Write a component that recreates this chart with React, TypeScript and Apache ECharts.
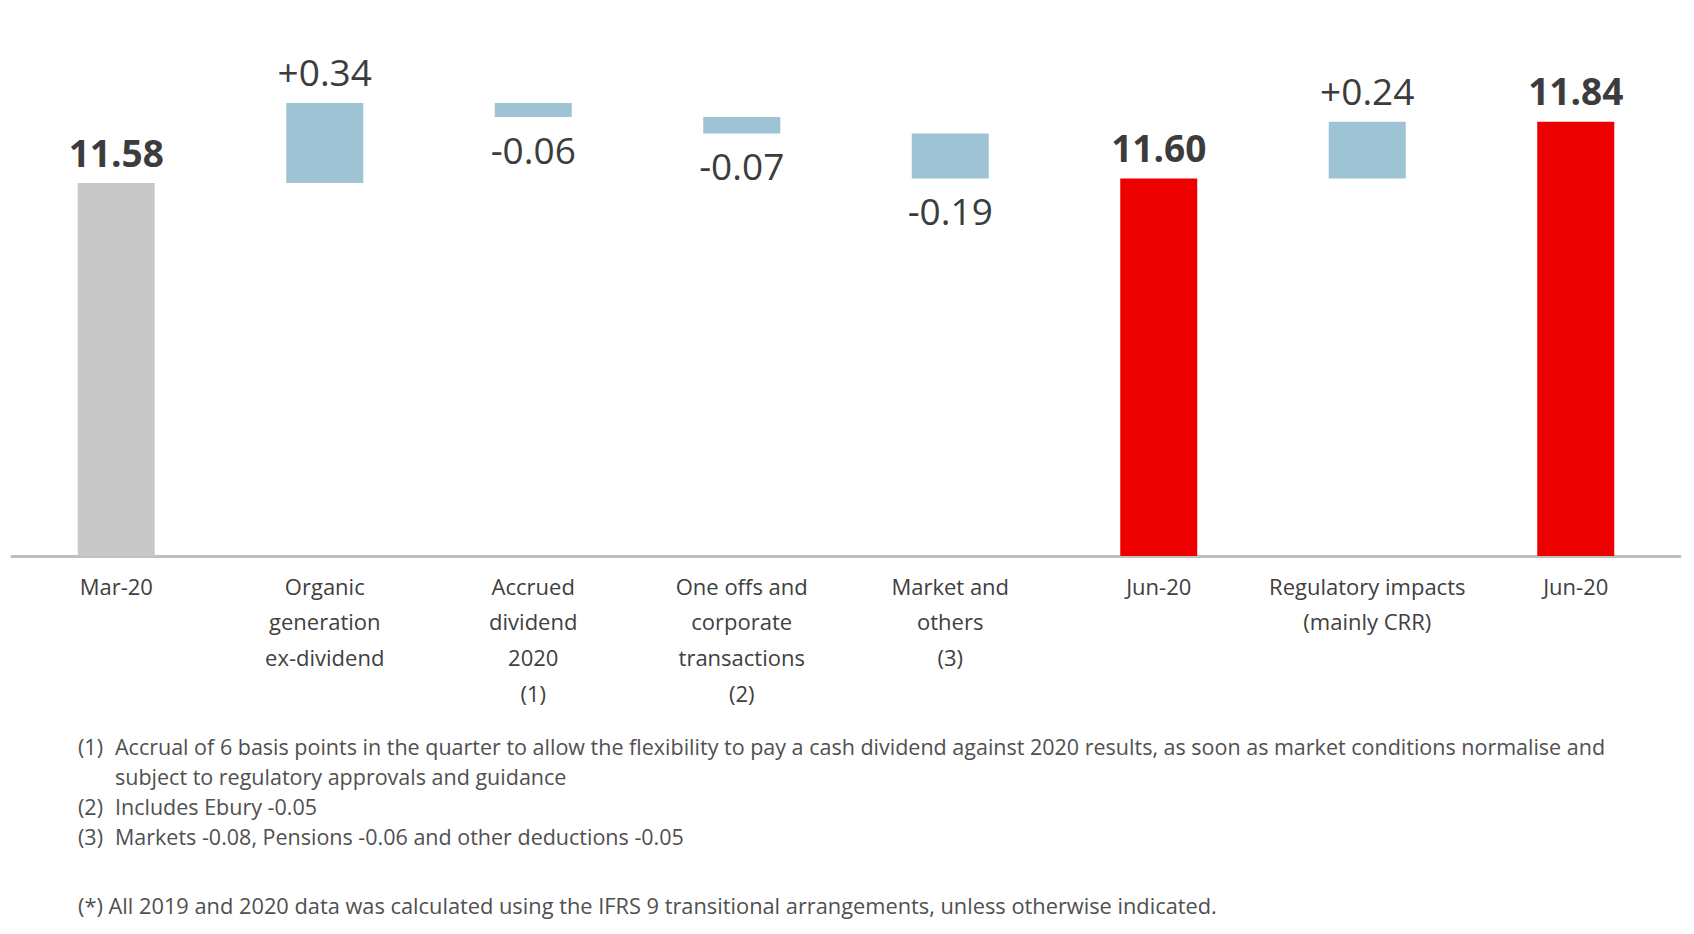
import React, { useEffect, useRef } from "react";
import * as echarts from "echarts";

const categories = [
  "Mar-20",
  "Organic\ngeneration\nex-dividend",
  "Accrued\ndividend\n2020\n(1)",
  "One offs and\ncorporate\ntransactions\n(2)",
  "Market and\nothers\n(3)",
  "Jun-20",
  "Regulatory impacts\n(mainly CRR)",
  "Jun-20",
];
const kinds = ["total", "delta", "delta", "delta", "delta", "total", "delta", "total"];
const values = [11.58, 0.34, -0.06, -0.07, -0.19, 11.6, 0.24, 11.84];

const footnoteMarks = ["(1)", "", "(2)", "(3)"];
const footnoteTexts = [
  "Accrual of 6 basis points in the quarter to allow the flexibility to pay a cash dividend against 2020 results, as soon as market conditions normalise and",
  "subject to regulatory approvals and guidance",
  "Includes Ebury -0.05",
  "Markets -0.08, Pensions -0.06 and other deductions -0.05",
];
const disclaimer =
  "(*) All 2019 and 2020 data was calculated using the IFRS 9 transitional arrangements, unless otherwise indicated.";

const AXIS_MIN = 10;
const AXIS_MAX = 12;

export default function App() {
  const ref = useRef<HTMLDivElement>(null);

  useEffect(() => {
    document.body.style.margin = "0";
    if (!ref.current) return;
    const chart = echarts.init(ref.current, undefined, { renderer: "svg" });

    const font = "'Open Sans', 'Noto Sans', sans-serif";
    const baseData: number[] = [];
    const barData: any[] = [];
    let running = 0;
    let totalCount = 0;
    values.forEach((v, i) => {
      const kind = kinds[i];
      let low: number, high: number;
      if (kind === "total") {
        low = AXIS_MIN;
        high = v;
        running = v;
      } else {
        const start = running;
        const end = running + v;
        low = Math.min(start, end);
        high = Math.max(start, end);
        running = end;
      }
      baseData.push(low);
      const color =
        kind === "total" ? (totalCount++ === 0 ? "#C8C8C8" : "#EC0000") : "#9DC3D4";
      const text =
        kind === "total" ? v.toFixed(2) : (v > 0 ? "+" : "") + v.toFixed(2);
      const neg = kind === "delta" && v < 0;
      barData.push({
        value: +(high - low).toFixed(4),
        itemStyle: { color },
        label: {
          show: true,
          position: neg ? "bottom" : "top",
          distance: neg ? 12 : 11,
          formatter: text,
          fontFamily: font,
          fontSize: 37,
          lineHeight: 40,
          fontWeight: kind === "total" ? "bold" : "normal",
          color: "#3C3C3C",
        },
      });
    });

    const graphics: any[] = [];
    const noteY = [749, 779, 809, 839];
    const fs = 21.5;
    footnoteTexts.forEach((t, i) => {
      if (footnoteMarks[i]) {
        graphics.push({
          type: "text",
          left: 78,
          top: noteY[i] - 14,
          style: { text: footnoteMarks[i], fontFamily: font, fontSize: fs, fill: "#505050" },
        });
      }
      graphics.push({
        type: "text",
        left: 115,
        top: noteY[i] - 14,
        style: { text: t, fontFamily: font, fontSize: fs, fill: "#505050" },
      });
    });
    graphics.push({
      type: "text",
      left: 78,
      top: 908 - 14,
      style: { text: disclaimer, fontFamily: font, fontSize: 21.8, fill: "#505050" },
    });

    chart.setOption({
      animation: false,
      grid: { left: 12, right: 14, top: 84, bottom: 378, containLabel: false },
      xAxis: {
        type: "category",
        data: categories,
        axisLine: { show: true, lineStyle: { color: "#BFBFBF", width: 3 } },
        axisTick: { show: false },
        axisLabel: {
          interval: 0,
          margin: 12,
          fontFamily: font,
          fontSize: 22,
          lineHeight: 35.6,
          color: "#404040",
        },
      },
      yAxis: {
        type: "value",
        min: AXIS_MIN,
        max: AXIS_MAX,
        show: false,
        splitLine: { show: false },
      },
      series: [
        {
          type: "bar",
          stack: "wf",
          data: baseData,
          itemStyle: { color: "transparent" },
          barWidth: 77,
          silent: true,
        },
        {
          type: "bar",
          stack: "wf",
          data: barData,
          barWidth: 77,
        },
      ],
      graphic: graphics,
    });

    return () => chart.dispose();
  }, []);

  return <div ref={ref} style={{ width: 1694, height: 934 }} />;
}
